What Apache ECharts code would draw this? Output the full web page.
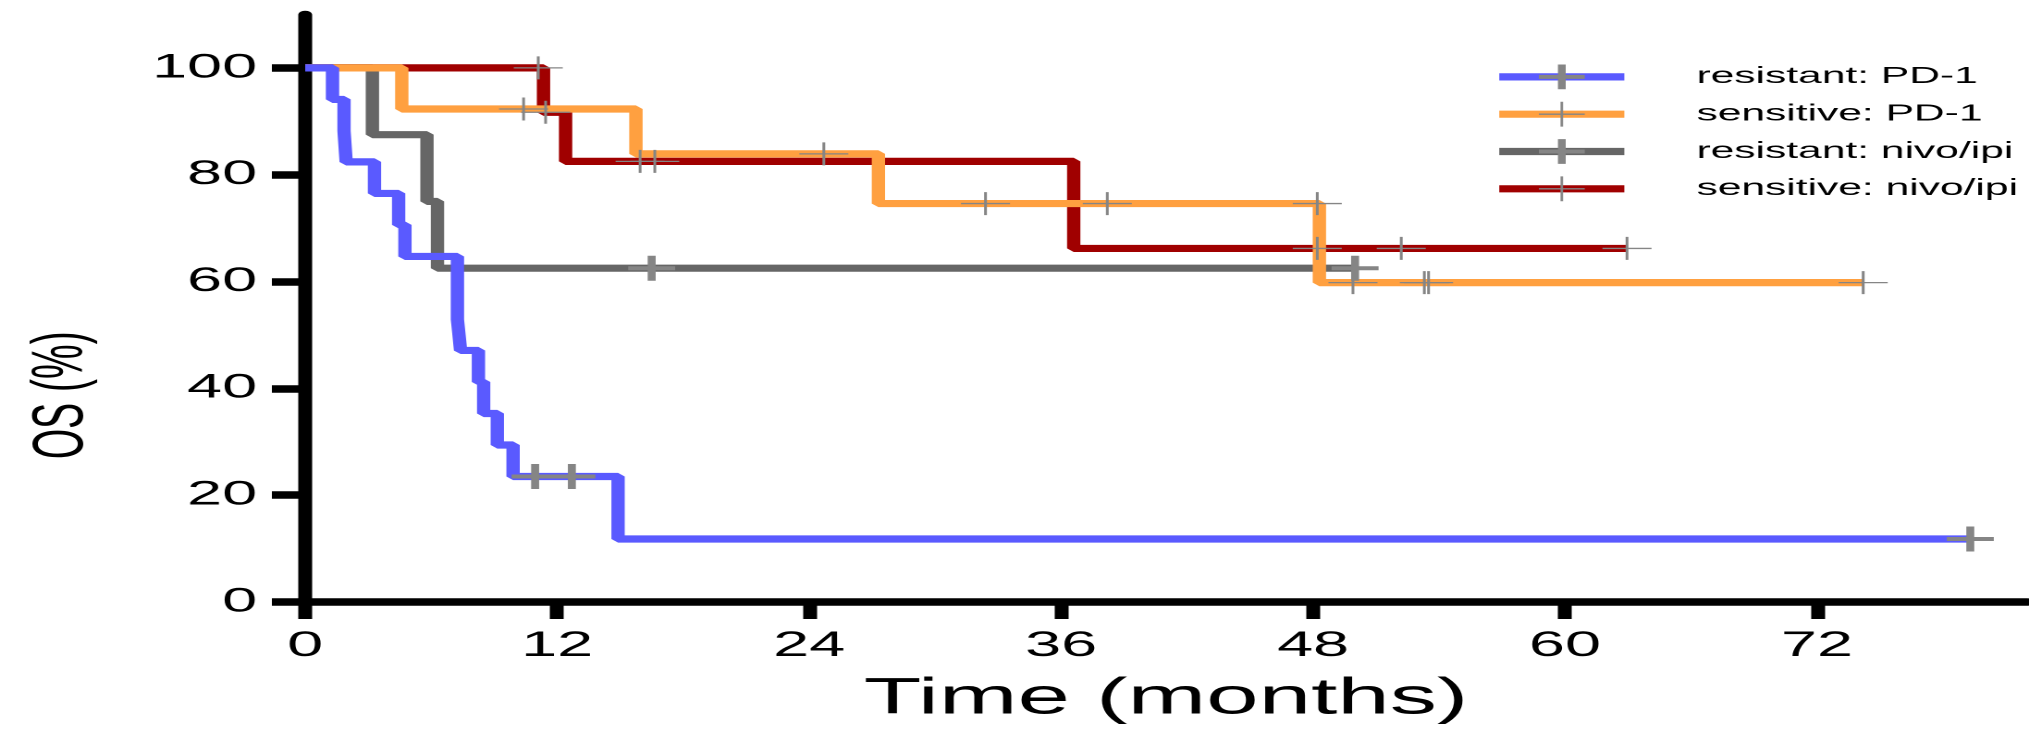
<!DOCTYPE html>
<html>
<head>
<meta charset="utf-8">
<script src="https://cdn.jsdelivr.net/npm/echarts@6/dist/echarts.min.js"></script>
<style>
  html, body { margin: 0; padding: 0; background: #fff; overflow: hidden; }
  #chart { width: 1097px; height: 730px; transform: scaleX(1.84959); transform-origin: 0 0; }
</style>
</head>
<body>
<div id="chart"></div>
<script>
// ---- data ----
const xTicks = [0, 12, 24, 36, 48, 60, 72];
const yTicks = [0, 20, 40, 60, 80, 100];
const seriesNames = ['resistant: PD-1', 'sensitive: PD-1', 'resistant: nivo/ipi', 'sensitive: nivo/ipi'];

const resPD1Time = [0, 1.3, 1.85, 1.95, 3.3, 4.45, 4.75, 7.25, 7.4, 8.25, 8.5, 9.15, 9.9, 14.9, 79.3];
const resPD1Surv = [100, 94.1, 88.2, 82.4, 76.5, 70.6, 64.7, 52.9, 47.1, 41.2, 35.3, 29.4, 23.5, 11.8, 11.8];
const resPD1CensTime = [10.95, 12.7, 79.3];
const resPD1CensSurv = [23.5, 23.5, 11.8];

const senPD1Time = [0, 4.6, 15.75, 27.3, 48.3, 74.2];
const senPD1Surv = [100, 92.3, 83.9, 74.6, 59.8, 59.8];
const senPD1CensTime = [10.4, 24.7, 32.4, 38.2, 48.2, 49.9, 53.3, 53.5, 74.2];
const senPD1CensSurv = [92.3, 83.9, 74.6, 74.6, 74.6, 59.8, 59.8, 59.8, 59.8];

const resNivoTime = [0, 3.2, 5.8, 6.3, 50.0];
const resNivoSurv = [100, 87.5, 75, 62.5, 62.5];
const resNivoCensTime = [16.5, 50.0];
const resNivoCensSurv = [62.5, 62.5];

const senNivoTime = [0, 11.35, 12.4, 36.6, 62.95];
const senNivoSurv = [100, 91.7, 82.5, 66.2, 66.2];
const senNivoCensTime = [11.1, 11.45, 15.95, 16.65, 48.2, 52.2, 62.95];
const senNivoCensSurv = [100, 91.7, 82.5, 82.5, 66.2, 66.2, 66.2];

// ---- styles ----
const FONT = 'Liberation Sans, Arial, Helvetica, sans-serif';
const colors = ['#5a5aff', '#ffa040', '#666666', '#a00000'];
const censorColor = '#858585';
const crossThick = 'path://M0,10.5H10.55V0H14.85V10.5H25.4V14.5H14.85V25H10.55V14.5H0Z';
const crossThin = 'path://M0,10.85H12.5V0H14V10.85H26.5V12.15H14V23H12.5V12.15H0Z';
const thickSize = [25.4, 25];
const thinSize = [26.5, 23];
const lineW = 7.2;

function zip(a, b) { return a.map((v, i) => [v, b[i]]); }

const groups = [
  { name: seriesNames[0], t: resPD1Time, s: resPD1Surv, ct: resPD1CensTime, cs: resPD1CensSurv, color: colors[0], sym: crossThick, size: thickSize },
  { name: seriesNames[1], t: senPD1Time, s: senPD1Surv, ct: senPD1CensTime, cs: senPD1CensSurv, color: colors[1], sym: crossThin, size: thinSize },
  { name: seriesNames[2], t: resNivoTime, s: resNivoSurv, ct: resNivoCensTime, cs: resNivoCensSurv, color: colors[2], sym: crossThick, size: thickSize },
  { name: seriesNames[3], t: senNivoTime, s: senNivoSurv, ct: senNivoCensTime, cs: senNivoCensSurv, color: colors[3], sym: crossThin, size: thinSize }
];

// draw order (bottom -> top): gray, red, orange, blue
const drawOrder = [2, 3, 1, 0];
const series = [];
drawOrder.forEach(i => {
  const g = groups[i];
  series.push({
    type: 'line', name: g.name, data: zip(g.t, g.s), step: 'end',
    symbol: g.sym, symbolSize: g.size, showSymbol: false, silent: true,
    lineStyle: { color: g.color, width: lineW, join: 'bevel', cap: 'butt' },
    itemStyle: { color: censorColor, borderWidth: 0 },
    emphasis: { disabled: true }, z: 2
  });
});
groups.forEach(g => {
  series.push({
    type: 'scatter', name: g.name + ' (censored)', data: zip(g.ct, g.cs),
    symbol: g.sym, symbolSize: g.size, silent: true,
    itemStyle: { color: censorColor, opacity: 1, borderWidth: 0 },
    z: 4
  });
});

const chart = echarts.init(document.getElementById('chart'), null, { renderer: 'canvas', devicePixelRatio: 2 });
chart.setOption({
  animation: false,
  backgroundColor: '#ffffff',
  grid: { left: 165, right: 1.1, top: 14.5, bottom: 127, containLabel: false },
  legend: {
    orient: 'vertical', left: 802, top: 59.5,
    itemWidth: 67.6, itemHeight: 31, itemGap: 12.5,
    selectedMode: false,
    textStyle: { fontSize: 23, color: '#000', fontFamily: FONT, padding: [0, 0, 0, 34] },
    data: groups.map(g => ({
      name: g.name,
      itemStyle: { color: censorColor, borderWidth: 0, opacity: 1 },
      lineStyle: { color: g.color, width: lineW, cap: 'butt', opacity: 1 }
    }))
  },
  xAxis: {
    type: 'value', min: 0, max: 82, interval: 12,
    name: 'Time (months)', nameLocation: 'middle', nameGap: 72,
    nameTextStyle: { fontSize: 51, color: '#000', fontFamily: FONT },
    axisLine: { show: true, onZero: false, lineStyle: { color: '#000', width: 7.5 } },
    axisTick: { show: true, length: 17, customValues: xTicks, lineStyle: { color: '#000', width: 7.5 } },
    axisLabel: { customValues: xTicks, margin: 27, fontSize: 35, color: '#000', fontFamily: FONT },
    splitLine: { show: false }
  },
  yAxis: {
    type: 'value', min: 0, max: 110, interval: 20,
    name: 'OS (%)', nameLocation: 'middle', nameRotate: 90, nameGap: 112,
    nameTextStyle: { fontSize: 39, color: '#000', fontFamily: FONT, padding: [0, 174, 0, 0] },
    axisLine: { show: true, onZero: false, lineStyle: { color: '#000', width: 7.5 } },
    axisTick: { show: true, length: 18, customValues: yTicks, lineStyle: { color: '#000', width: 7.5 } },
    axisLabel: { customValues: yTicks, margin: 26, fontSize: 34, color: '#000', fontFamily: FONT },
    splitLine: { show: false }
  },
  series: series
});
</script>
</body>
</html>
